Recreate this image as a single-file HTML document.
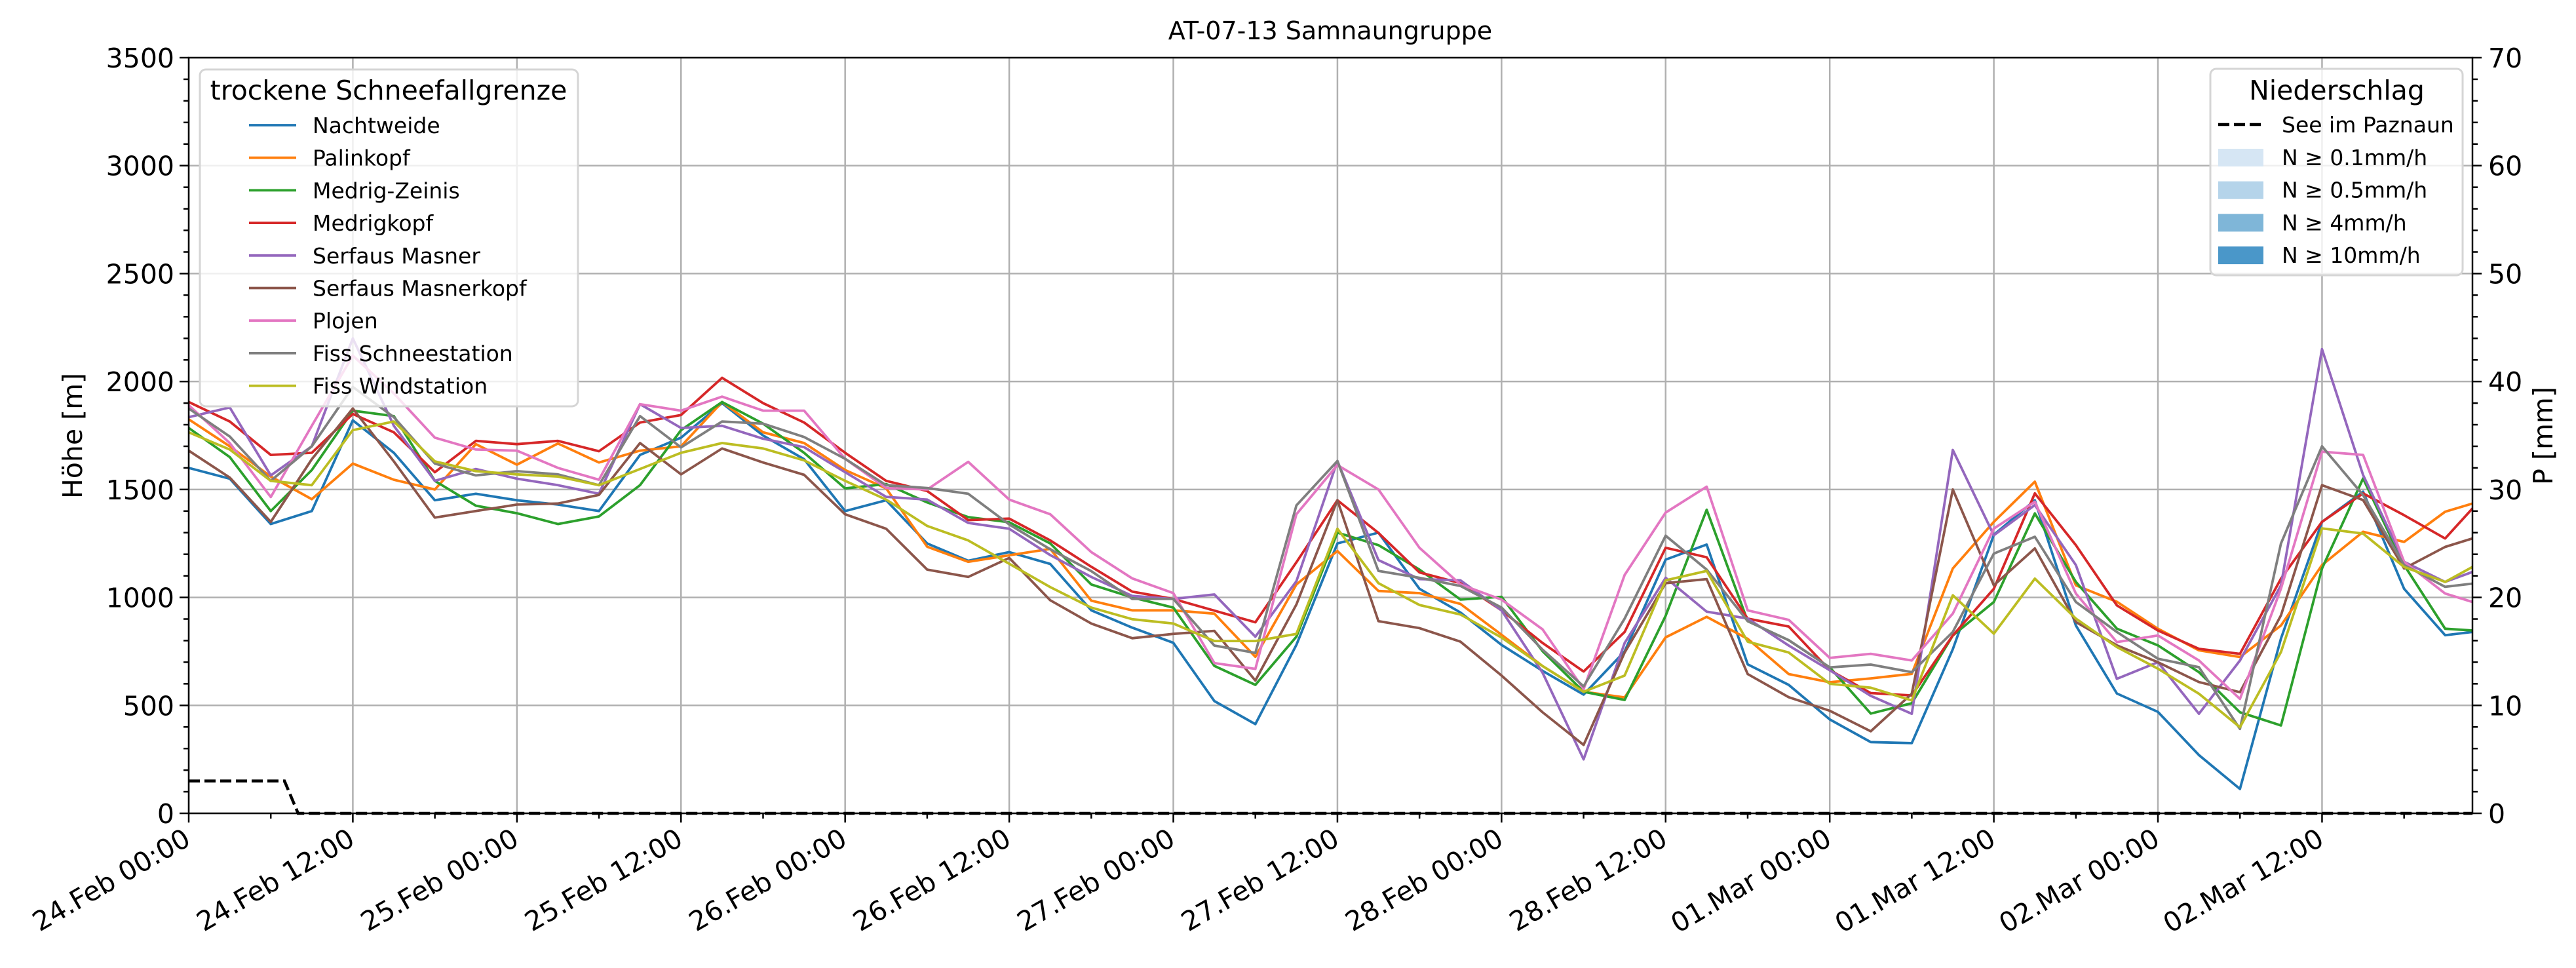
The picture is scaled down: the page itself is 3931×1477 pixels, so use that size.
<!DOCTYPE html>
<html><head><meta charset="utf-8"><style>
html,body{margin:0;padding:0;background:#fff;}
svg{display:block;font-family:"DejaVu Sans","Liberation Sans",sans-serif;}
</style></head><body>
<svg id="chart" width="3931" height="1477" viewBox="0 0 3931 1477" xmlns="http://www.w3.org/2000/svg">
<rect x="0" y="0" width="3931" height="1477" fill="#fff"/>
<g id="grid"></g>
<g id="series"></g>
<g id="axes"></g>
<text x="2030" y="60" font-size="38" text-anchor="middle">AT-07-13 Samnaungruppe</text>
<text transform="translate(125,665) rotate(-90)" font-size="41" text-anchor="middle">Höhe [m]</text>
<text transform="translate(3895,665) rotate(-90)" font-size="41" text-anchor="middle">P [mm]</text>
<g id="legend1"></g>
<g id="legend2"></g>
</svg>
<script>
const hours=[0,3,6,9,12,15,18,21,24,27,30,33,36,39,42,45,48,51,54,57,60,63,66,69,72,75,78,81,84,87,90,93,96,99,102,105,108,111,114,117,120,123,126,129,132,135,138,141,144,147,150,153,156,159,162,165,167];
const nachtweide=[1600,1550,1340,1400,1820,1670,1450,1480,1450,1430,1400,1660,1740,1900,1750,1640,1400,1450,1250,1170,1210,1155,940,860,790,520,413,780,1250,1300,1040,930,780,660,550,750,1175,1245,690,595,435,330,325,760,1290,1450,870,555,470,270,113,810,1350,1490,1040,825,840];
const palinkopf=[1825,1700,1560,1455,1620,1545,1500,1710,1615,1713,1625,1680,1700,1905,1765,1715,1590,1505,1235,1165,1195,1225,985,940,940,925,725,1060,1215,1030,1020,970,827,682,563,537,815,910,808,645,607,625,646,1134,1350,1536,1056,980,855,755,724,870,1150,1304,1257,1397,1435];
const medrigZeinis=[1785,1650,1400,1590,1865,1840,1540,1425,1390,1340,1375,1520,1775,1905,1805,1670,1505,1525,1440,1372,1348,1250,1060,1000,953,683,595,818,1300,1242,1129,990,1003,751,563,525,915,1406,890,802,676,462,510,824,979,1389,1072,855,778,654,468,407,1134,1551,1150,855,847];
const medrigkopf=[1905,1815,1660,1670,1850,1765,1580,1725,1710,1725,1677,1810,1845,2017,1900,1810,1670,1540,1493,1358,1365,1264,1142,1027,993,939,885,1163,1450,1299,1116,1066,940,789,657,840,1230,1186,902,865,663,557,546,824,1040,1482,1242,963,847,762,739,1087,1350,1482,1381,1273,1412];
const serfausMasner=[1835,1880,1565,1700,2200,1795,1540,1595,1550,1520,1480,1895,1785,1795,1735,1696,1580,1466,1453,1345,1318,1196,1095,1007,993,1014,818,1075,1632,1173,1085,1079,940,651,250,789,1091,934,902,777,663,544,461,1683,1288,1428,1150,623,700,461,708,1056,2150,1567,1165,1072,1118];
const serfausMasnerkopf=[1680,1555,1350,1640,1875,1630,1370,1400,1430,1435,1475,1715,1570,1690,1625,1568,1385,1318,1129,1095,1183,987,879,811,831,845,615,967,1450,890,858,795,638,468,317,745,1066,1085,645,538,475,380,554,1500,1056,1227,886,778,700,608,561,917,1520,1451,1134,1234,1273];
const plojen=[1890,1715,1465,1795,2120,1945,1740,1685,1680,1600,1545,1895,1865,1930,1865,1865,1642,1507,1500,1628,1453,1385,1210,1088,1020,696,669,1385,1613,1500,1230,1060,990,852,575,1104,1393,1513,940,896,720,739,708,925,1319,1443,1018,793,824,708,530,1041,1675,1660,1165,1018,979];
const fissSchnee=[1875,1745,1540,1700,1975,1835,1620,1565,1585,1570,1520,1840,1695,1815,1805,1743,1642,1520,1507,1480,1338,1223,1122,993,993,777,743,1426,1632,1123,1091,1053,953,758,588,902,1286,1129,890,802,676,689,654,840,1203,1281,979,840,716,677,391,1250,1700,1474,1150,1049,1064];
const fissWind=[1765,1685,1540,1520,1775,1815,1630,1585,1570,1560,1520,1595,1670,1715,1690,1635,1540,1453,1331,1264,1156,1048,953,899,879,798,798,831,1318,1066,965,921,814,682,563,638,1079,1123,795,745,600,582,523,1010,832,1087,902,770,670,554,399,747,1320,1296,1141,1072,1141];
const precipHours=[0,7,8,167];
const precipValues=[3,3,0,0];
const seriesNames=["Nachtweide","Palinkopf","Medrig-Zeinis","Medrigkopf","Serfaus Masner","Serfaus Masnerkopf","Plojen","Fiss Schneestation","Fiss Windstation"];
const seriesColors=["#1f77b4","#ff7f0e","#2ca02c","#d62728","#9467bd","#8c564b","#e377c2","#7f7f7f","#bcbd22"];
const seriesData=[nachtweide,palinkopf,medrigZeinis,medrigkopf,serfausMasner,serfausMasnerkopf,plojen,fissSchnee,fissWind];
const xTickLabels=["24.Feb 00:00","24.Feb 12:00","25.Feb 00:00","25.Feb 12:00","26.Feb 00:00","26.Feb 12:00","27.Feb 00:00","27.Feb 12:00","28.Feb 00:00","28.Feb 12:00","01.Mar 00:00","01.Mar 12:00","02.Mar 00:00","02.Mar 12:00"];
const yTicks=[0,500,1000,1500,2000,2500,3000,3500];
const y2Ticks=[0,10,20,30,40,50,60,70];

const NS="http://www.w3.org/2000/svg";
const L=288,R=3773,T=88,B=1241,HMAX=167;
const xS=h=>L+(R-L)*h/HMAX;
const yS=v=>B-(B-T)*v/3500;
const y2S=v=>B-(B-T)*v/70;
function mk(tag,attrs,parent){const e=document.createElementNS(NS,tag);for(const k in attrs)e.setAttribute(k,attrs[k]);parent.appendChild(e);return e;}
const grid=document.getElementById('grid'),axes=document.getElementById('axes'),ser=document.getElementById('series');
xTickLabels.forEach((lab,i)=>{const x=xS(i*12);
 const g=mk('line',{x1:x,x2:x,y1:T,y2:B,stroke:'#b0b0b0','stroke-width':2.5},grid);
 
 });
yTicks.forEach(v=>{const y=yS(v);
 const g=mk('line',{x1:L,x2:R,y1:y,y2:y,stroke:'#b0b0b0','stroke-width':2.5},grid);
 
 });
seriesData.forEach((arr,si)=>{
 const d=arr.map((v,i)=>(i?'L':'M')+xS(hours[i]).toFixed(1)+','+yS(v).toFixed(1)).join(' ');
 const p=mk('path',{d:d,fill:'none',stroke:seriesColors[si],'stroke-width':3.8,'stroke-linejoin':'round'},ser);
 
 
});
{const d=precipValues.map((v,i)=>(i?'L':'M')+xS(precipHours[i]).toFixed(1)+','+y2S(v).toFixed(1)).join(' ');
 const p=mk('path',{d:d,fill:'none',stroke:'#000','stroke-width':4.5,'stroke-dasharray':'17,7'},ser);
 
 }
mk('rect',{x:L,y:T,width:R-L,height:B-T,fill:'none',stroke:'#000','stroke-width':2.5},axes);
for(let h=0;h<=HMAX;h+=6){const x=xS(h);const major=h%12===0;
 mk('line',{x1:x,x2:x,y1:B,y2:B+(major?14:8),stroke:'#000','stroke-width':2.5},axes);}
xTickLabels.forEach((lab,i)=>{const x=xS(i*12);
 const t=mk('text',{transform:`translate(${x-10},${B+20}) rotate(-30)`,'font-size':41,'text-anchor':'end',dy:'0.75em'},axes);
 t.textContent=lab;
 
 });
for(let v=0;v<=3500;v+=100){const y=yS(v);const major=v%500===0;
 mk('line',{x1:L,x2:L-(major?14:8),y1:y,y2:y,stroke:'#000','stroke-width':2.5},axes);}
yTicks.forEach(v=>{const t=mk('text',{x:L-22,y:yS(v)+15,'font-size':41,'text-anchor':'end'},axes);
 t.textContent=v;
 
 });
for(let v=0;v<=70;v+=2){const y=y2S(v);const major=v%10===0;
 mk('line',{x1:R,x2:R+(major?14:8),y1:y,y2:y,stroke:'#000','stroke-width':2.5},axes);}
y2Ticks.forEach(v=>{const t=mk('text',{x:R+24,y:y2S(v)+15,'font-size':41,'text-anchor':'start'},axes);
 t.textContent=v;
 
 });
const lg1=document.getElementById('legend1');
mk('rect',{x:305,y:106,width:577,height:514,rx:9,fill:'#fff','fill-opacity':0.8,stroke:'#d5d5d5','stroke-width':3},lg1);
{const t=mk('text',{x:593,y:152,'font-size':41,'text-anchor':'middle'},lg1);t.textContent='trockene Schneefallgrenze';
 
 }
seriesNames.forEach((n,i)=>{const y=191+i*49.7;
 const g=mk('g',{},lg1);
 
 
 mk('line',{x1:380,x2:452,y1:y,y2:y,stroke:seriesColors[i],'stroke-width':3.8},g);
 const t=mk('text',{x:477,y:y+12,'font-size':33},g);t.textContent=n;});
const lg2=document.getElementById('legend2');
mk('rect',{x:3373,y:105,width:385,height:315,rx:9,fill:'#fff','fill-opacity':0.8,stroke:'#d5d5d5','stroke-width':3},lg2);
{const t=mk('text',{x:3566,y:152,'font-size':41,'text-anchor':'middle'},lg2);t.textContent='Niederschlag';
 
 }
{const g=mk('g',{},lg2);
 
 
 mk('line',{x1:3385,x2:3454,y1:190,y2:190,stroke:'#000','stroke-width':4.5,'stroke-dasharray':'17,7'},g);
 const t=mk('text',{x:3482,y:202,'font-size':33},g);t.textContent='See im Paznaun';}
const patchColors=['#d6e6f4','#b5d4ea','#7fb6d8','#4a97c9'];
const patchLabels=['N ≥ 0.1mm/h','N ≥ 0.5mm/h','N ≥ 4mm/h','N ≥ 10mm/h'];
patchLabels.forEach((lab,i)=>{const y=240+i*49.7;
 const g=mk('g',{},lg2);
 
 
 mk('rect',{x:3385,y:y-13,width:69,height:27,fill:patchColors[i]},g);
 const t=mk('text',{x:3482,y:y+12,'font-size':33},g);t.textContent=lab;});
</script>
</body></html>
